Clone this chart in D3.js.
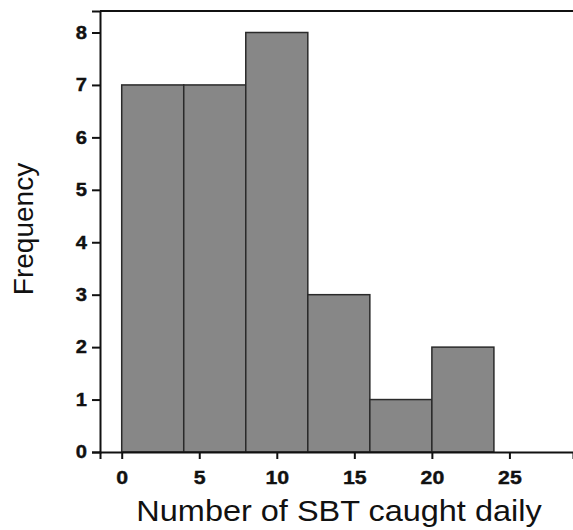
<!DOCTYPE html>
<html>
<head>
<meta charset="utf-8">
<script src="https://cdn.jsdelivr.net/npm/d3@7"></script>
<style>
  html, body { margin: 0; padding: 0; background: #fff; }
  svg { display: block; }
  text { font-family: "Liberation Sans", Arial, sans-serif; }
</style>
</head>
<body>
<svg id="chart" width="573" height="530"></svg>
<script>
// Histogram data: bin edges and frequencies
const binStarts = [0, 4, 8, 12, 16, 20];
const binEnds   = [4, 8, 12, 16, 20, 24];
const frequencies = [7, 7, 8, 3, 1, 2];
const xTicks = [0, 5, 10, 15, 20, 25];
const yTicks = [0, 1, 2, 3, 4, 5, 6, 7, 8];
const xLabel = "Number of SBT caught daily";
const yLabel = "Frequency";

const bins = binStarts.map((s, i) => ({ x0: s, x1: binEnds[i], n: frequencies[i] }));

const svg = d3.select("#chart");
const mLeft = 100, mRight = 573, mTop = 11, mBottom = 452;

const x = d3.scaleLinear().domain([-1.4, 29.1]).range([mLeft, mRight]);
const y = d3.scaleLinear().domain([0, 8.41]).range([mBottom, mTop]);

// bars
svg.append("g").selectAll("rect").data(bins).join("rect")
  .attr("x", d => x(d.x0))
  .attr("y", d => y(d.n))
  .attr("width", d => x(d.x1) - x(d.x0))
  .attr("height", d => y(0) - y(d.n))
  .attr("fill", "#878787")
  .attr("stroke", "#2a2a2a")
  .attr("stroke-width", 1.5);

// top frame line
svg.append("line")
  .attr("x1", mLeft).attr("x2", mRight).attr("y1", mTop).attr("y2", mTop)
  .attr("stroke", "#111").attr("stroke-width", 2);

// x axis
const xAxis = svg.append("g")
  .attr("transform", `translate(0,${mBottom})`)
  .call(d3.axisBottom(x).tickValues(xTicks).tickSizeOuter(0).tickSize(7).tickPadding(12));
xAxis.attr("font-size", null);
xAxis.select(".domain").attr("stroke", "#111").attr("stroke-width", 2);
xAxis.selectAll(".tick line").attr("stroke", "#111").attr("stroke-width", 2);
xAxis.selectAll(".tick text")
  .style("font-size", "19px").style("font-weight", "bold").attr("fill", "#111")
  .attr("stroke", "#111").attr("stroke-width", 0.4)
  .attr("transform", "scale(1.12,1)");

// y axis
const yAxis = svg.append("g")
  .attr("transform", `translate(${mLeft},0)`)
  .call(d3.axisLeft(y).tickValues(yTicks).tickSizeOuter(0).tickSize(8).tickPadding(5));
yAxis.attr("font-size", null);
yAxis.select(".domain").attr("stroke", "#111").attr("stroke-width", 2);
yAxis.selectAll(".tick line").attr("stroke", "#111").attr("stroke-width", 2);
yAxis.selectAll(".tick text")
  .style("font-size", "18px").style("font-weight", "bold").attr("fill", "#111")
  .attr("stroke", "#111").attr("stroke-width", 0.4)
  .attr("x", -13 / 1.12)
  .attr("transform", "scale(1.12,1)");

// x label
svg.append("text")
  .attr("transform", `translate(339,521) scale(1.12,1)`)
  .attr("text-anchor", "middle")
  .attr("font-size", 29)
  .attr("fill", "#111")
  .text(xLabel);

// y label
svg.append("text")
  .attr("transform", `translate(33,229) rotate(-90)`)
  .attr("text-anchor", "middle")
  .attr("font-size", 28)
  .attr("fill", "#111")
  .text(yLabel);
</script>
</body>
</html>
